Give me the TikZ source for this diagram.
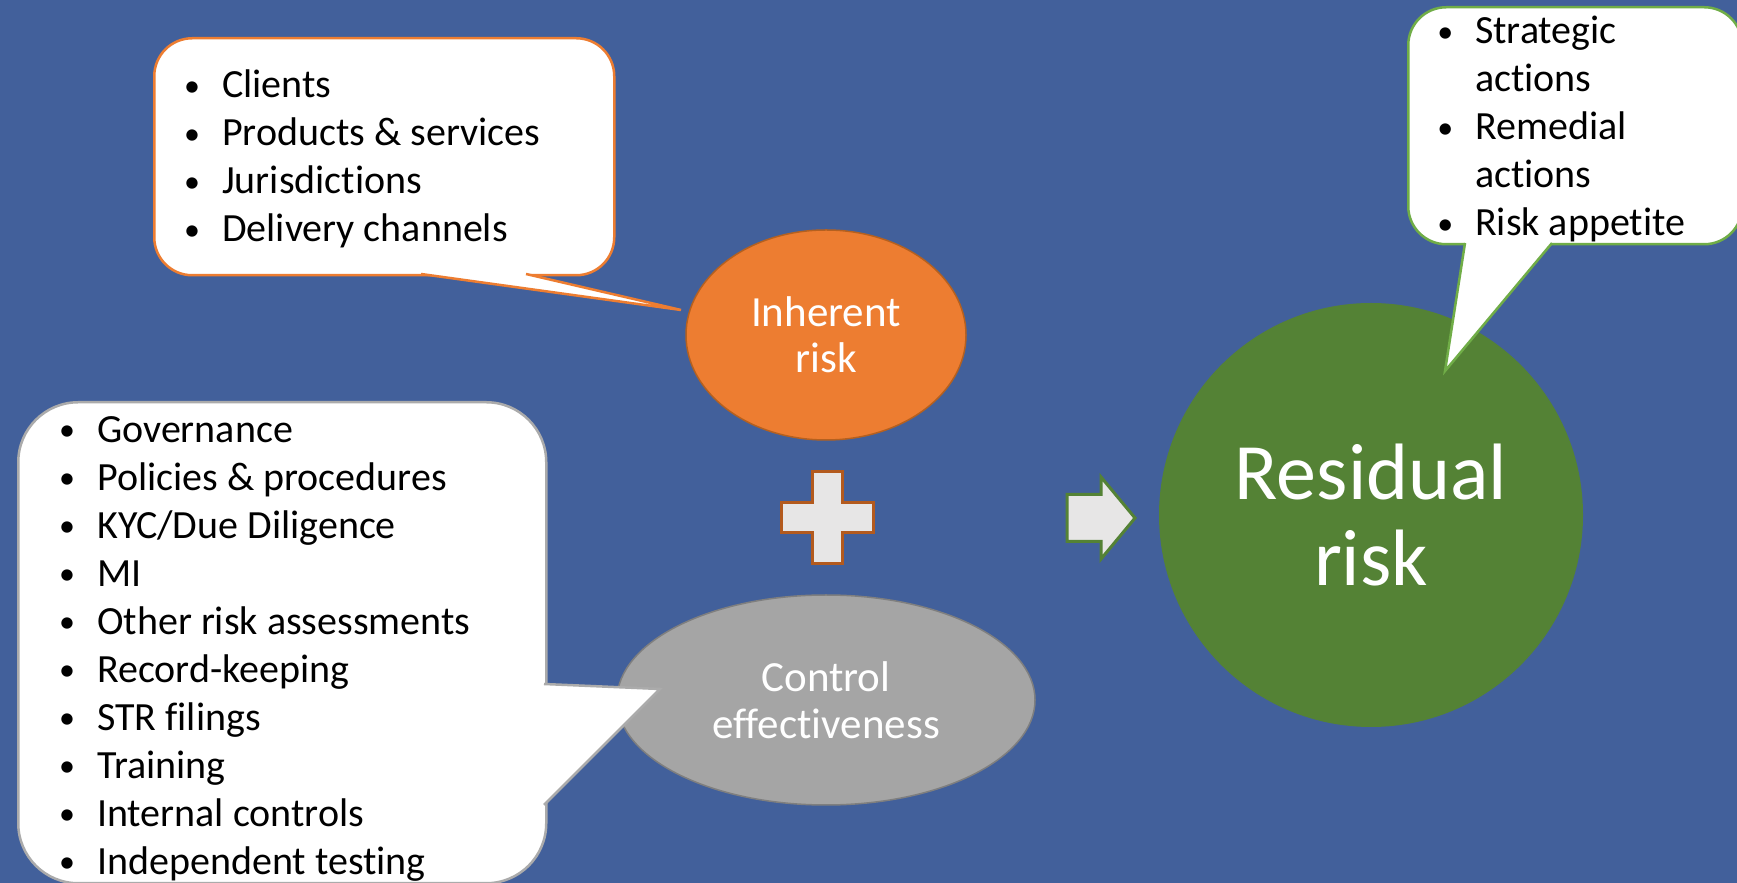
\documentclass[tikz,border=0pt]{standalone}
\usepackage{fontspec}
\setmainfont{Carlito}[RawFeature={-liga;-clig;-calt}]
\usetikzlibrary{shapes.geometric}

\definecolor{slide}{HTML}{42609B}
\definecolor{inh}{HTML}{ED7D31}
\definecolor{inhline}{HTML}{B5601F}
\definecolor{ctrl}{HTML}{A5A5A5}
\definecolor{ctrlline}{HTML}{7F7F7F}
\definecolor{res}{HTML}{548235}
\definecolor{resline}{HTML}{70AD47}
\definecolor{opfill}{HTML}{E7E6E6}
\definecolor{plusline}{HTML}{B35A1E}
\definecolor{bubblegray}{HTML}{ABABAB}

% small bullet centred on the list's left edge, text 30pt further in
\newcommand{\itm}{\makebox[0pt][c]{\raisebox{1.5pt}{\fontsize{32}{32}\selectfont\textbullet}}\hspace*{30pt}}
\newcommand{\cont}{\hspace*{30pt}}

\begin{document}
\begin{tikzpicture}[x=1pt,y=1pt]

        \fill[slide] (0,0) rectangle (1737,883);
        \useasboundingbox (0,0) rectangle (1737,883);

        % the three risk shapes
        \begin{scope}[every node/.style={ellipse, inner sep=0pt, align=center, text=white, line width=1.5pt}]
          \node[fill=inh, draw=inhline, minimum width=280, minimum height=210,
                font=\fontsize{43}{46}\selectfont] (inherent) at (826,548) {Inherent\\risk};
          \node[fill=ctrl, draw=ctrlline, minimum width=418, minimum height=210,
                font=\fontsize{43}{47}\selectfont] (control) at (826,183) {Control\\effectiveness};
          \node[circle, fill=res, minimum size=424,
                font=\fontsize{80}{86}\selectfont] (residual) at (1371,368) {Residual\\risk};
        \end{scope}

        % plus and arrow
        \begin{scope}[line width=3pt, fill=opfill]
          \draw[fill=opfill, draw=plusline, shift={(827,365.5)}]
            (-15,46) -- (15,46) -- (15,15) -- (46,15) -- (46,-15) -- (15,-15) -- (15,-46)
            -- (-15,-46) -- (-15,-15) -- (-46,-15) -- (-46,15) -- (-15,15) -- cycle;
          \draw[fill=opfill, draw=res, shift={(1067,365)}]
            (0,23.5) -- (34,23.5) -- (34,41) -- (68,0) -- (34,-41) -- (34,-23.5) -- (0,-23.5) -- cycle;
        \end{scope}

        % speech bubbles
        \begin{scope}[every node/.style={draw, fill=white, line width=2.5pt, rounded corners=38pt,
                                         anchor=north west, inner sep=0pt}]
          \node[draw=inh, minimum width=460, minimum height=237] (drivers) at (153,846) {};
          \node[draw=bubblegray, rounded corners=60pt, minimum width=528, minimum height=481] (controls) at (17,482) {};
          \node[draw=resline, minimum width=334, minimum height=237] (actions) at (1407,877) {};
        \end{scope}

        \coordinate (d1) at (421,609);
        \coordinate (d2) at (526,609);
        \coordinate (dtip) at (681,573);
        \coordinate (c1) at (544,199);
        \coordinate (c2) at (544,78);
        \coordinate (ctip) at (660,194);
        \coordinate (a1) at (1465,640);
        \coordinate (a2) at (1552,640);
        \coordinate (atip) at (1445,512);

        \begin{scope}[line width=2.5pt]
          \fill[white] (d1) -- (dtip) -- (d2) -- ([yshift=4]d2) -- ([yshift=4]d1) -- cycle;
          \draw[inh] (d1) -- (dtip) -- (d2);
          \fill[white] (c1) -- (ctip) -- (c2) -- ([xshift=-4]c2) -- ([xshift=-4]c1) -- cycle;
          \draw[bubblegray] (c1) -- (ctip) -- (c2);
          \fill[white] (a1) -- (atip) -- (a2) -- ([yshift=4]a2) -- ([yshift=4]a1) -- cycle;
          \draw[resline] (a1) -- (atip) -- (a2);
        \end{scope}

        % bullet lists
        \begin{scope}[every node/.style={anchor=north west, inner sep=0pt, align=left,
                                         font=\fontsize{40}{48}\selectfont}]
          \node (driverlist) at (192,813)
            {\itm Clients\\\itm Products \& services\\\itm Jurisdictions\\\itm Delivery channels};
          \node (controllist) at (67,467)
            {\itm Governance\\\itm Policies \& procedures\\\itm KYC/Due Diligence\\\itm MI\\
             \itm Other risk assessments\\\itm Record-keeping\\\itm STR filings\\\itm Training\\
             \itm Internal controls\\\itm Independent testing};
          \node (actionlist) at (1445,867)
            {\itm Strategic\\\cont actions\\\itm Remedial\\\cont actions\\\itm Risk appetite};
        \end{scope}

      \end{tikzpicture}
\end{document}
